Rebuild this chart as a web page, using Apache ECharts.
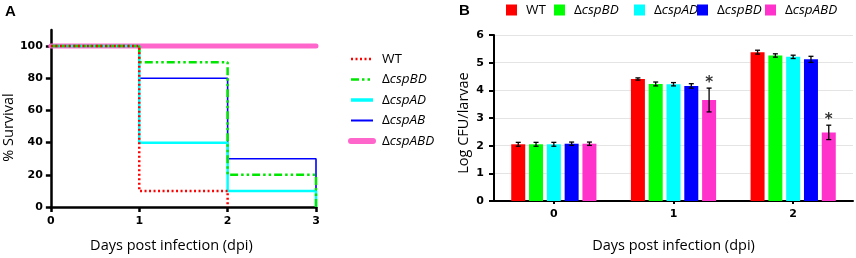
<!DOCTYPE html>
<html><head><meta charset="utf-8">
<script src="https://cdn.jsdelivr.net/npm/echarts@6/dist/echarts.min.js"></script>
<style>html,body{margin:0;padding:0;background:#fff}#c{width:856px;height:258px}</style>
</head><body><div id="c"></div>
<script>
// ---------- Panel A: survival (step curves) ----------
const survivalNames = ['WT', 'ΔcspBD', 'ΔcspAD', 'ΔcspAB', 'ΔcspABD'];
const survivalDays = [0, 1, 2, 3];
const survWT  = [100, 10, 0];
const survBD  = [100, 90, 20, 0];
const survAD  = [100, 40, 10, 0];
const survAB  = [100, 80, 30, 0];
const survABD = [100, 100, 100, 100];
const survivalYTicks = [0, 20, 40, 60, 80, 100];

// ---------- Panel B: Log CFU/larvae ----------
const cfuDays = ['0', '1', '2'];
const cfuLegendLabels = ['WT', 'ΔcspBD', 'ΔcspAD', 'ΔcspBD', 'ΔcspABD'];
const cfuWT  = [2.05, 4.41, 5.38];
const cfuBD  = [2.05, 4.23, 5.26];
const cfuAD  = [2.05, 4.22, 5.21];
const cfuAB  = [2.07, 4.16, 5.12];
const cfuABD = [2.07, 3.65, 2.48];
const errWT  = [0.07, 0.04, 0.07];
const errBD  = [0.07, 0.07, 0.06];
const errAD  = [0.07, 0.06, 0.06];
const errAB  = [0.06, 0.08, 0.11];
const errABD = [0.06, 0.43, 0.26];
const starABD = [0, 1, 1];

// ---------- styling ----------
const survColors = ['#ff0000', '#00e600', '#00ffff', '#0000ff', '#ff66cc'];
const barColors = ['#ff0000', '#00ff00', '#00ffff', '#0000ff', '#ff33cc'];
const BAR_W = 14, BAR_STEP = 17.8;
const tickFont = {fontFamily: 'DejaVu Sans', fontWeight: 'bold', fontSize: 11, color: '#000'};
const titleFont = {fontFamily: 'Open Sans', fontSize: 14.5, color: '#000'};
const richLegend = {
  n: {fontFamily: 'Open Sans', fontSize: 13.5, color: '#000'},
  i: {fontFamily: 'Open Sans', fontSize: 13.5, fontStyle: 'italic', color: '#000'}
};
function fmtLabel(label) {
  if (label.charAt(0) === 'Δ') return '{n|Δ}{i|' + label.slice(1) + '}';
  return '{n|' + label + '}';
}

const survSeriesData = [survWT, survBD, survAD, survAB, survABD];
function toPairs(vals) { return vals.map((v, i) => [survivalDays[i], v]); }

const lineStyles = [
  {type: [2, 2.5], width: 2.5},
  {type: [8, 3, 2.5, 3, 2.5, 3], width: 2.5},
  {type: 'solid', width: 2.5},
  {type: 'solid', width: 1.6},
  {type: 'solid', width: 5, cap: 'round'}
];
const legendLineWidths = [2.5, 2.5, 3.5, 2, 6];

const series = [];
// draw pink first so others sit on top
[4, 3, 2, 1, 0].forEach(k => {
  series.push({
    name: survivalNames[k], type: 'line', step: 'end', xAxisIndex: 0, yAxisIndex: 0,
    data: toPairs(survSeriesData[k]), symbol: 'none', showSymbol: false,
    color: survColors[k],
    lineStyle: Object.assign({color: survColors[k]}, lineStyles[k]),
    emphasis: {disabled: true}, animation: false
  });
});

const cfuSeriesVals = [cfuWT, cfuBD, cfuAD, cfuAB, cfuABD];
const cfuErrVals = [errWT, errBD, errAD, errAB, errABD];
const barSeriesNames = ['B-WT', 'B-cspBD', 'B-cspAD', 'B-cspAB', 'B-cspABD'];
cfuSeriesVals.forEach((vals, k) => {
  series.push({
    name: barSeriesNames[k], type: 'bar', xAxisIndex: 1, yAxisIndex: 1,
    data: vals, barWidth: BAR_W, barGap: ((BAR_STEP - BAR_W) / BAR_W * 100) + '%',
    itemStyle: {color: barColors[k]}, animation: false, emphasis: {disabled: true}
  });
});

const errData = [];
cfuSeriesVals.forEach((vals, k) => {
  vals.forEach((v, c) => {
    errData.push([c, k, v, cfuErrVals[k][c], k === 4 ? starABD[c] : 0]);
  });
});
series.push({
  type: 'custom', xAxisIndex: 1, yAxisIndex: 1, data: errData, z: 5, animation: false,
  renderItem: function (params, api) {
    const cat = api.value(0), k = api.value(1), m = api.value(2), e = api.value(3), st = api.value(4);
    const x = api.coord([cat, m])[0] + (k - 2) * BAR_STEP;
    const yT = api.coord([cat, m + e])[1], yB = api.coord([cat, m - e])[1];
    const st1 = {stroke: '#000', lineWidth: 1.3};
    const ch = [
      {type: 'line', shape: {x1: x, y1: yT, x2: x, y2: yB}, style: st1},
      {type: 'line', shape: {x1: x - 2.5, y1: yT, x2: x + 2.5, y2: yT}, style: st1},
      {type: 'line', shape: {x1: x - 2.5, y1: yB, x2: x + 2.5, y2: yB}, style: st1}
    ];
    if (st) {
      ch.push({type: 'text', x: x, y: yT - 5, style: {text: '*', fontFamily: 'DejaVu Sans', fontWeight: 'bold', fontSize: 15, fill: '#333', align: 'center', verticalAlign: 'middle'}});
    }
    return {type: 'group', children: ch};
  }
});

const legendBLeft = [506, 554, 634, 697, 765];
const legends = [{
  data: survivalNames.map((n, k) => ({name: n, lineStyle: {width: legendLineWidths[k]}})),
  orient: 'vertical', left: 348, top: 52, padding: 0,
  itemWidth: 22, itemHeight: 10, itemGap: 6.5, selectedMode: false,
  itemStyle: {opacity: 0},
  formatter: n => fmtLabel(n),
  textStyle: {rich: {
    n: Object.assign({}, richLegend.n, {padding: [0, 0, 0, 4]}),
    i: richLegend.i}}
}];
barSeriesNames.forEach((nm, k) => {
  legends.push({
    data: [{name: nm, icon: 'rect'}], left: legendBLeft[k], top: 3, padding: 0,
    itemWidth: 11, itemHeight: 11,
    selectedMode: false, formatter: () => fmtLabel(cfuLegendLabels[k]),
    textStyle: {rich: {
      n: Object.assign({}, richLegend.n, {padding: [0, 0, 0, 4]}),
      i: richLegend.i}}
  });
});

const panelTitleFont = {fontFamily: 'Liberation Sans', fontWeight: 'bold', fontSize: 15, color: '#000'};
const option = {
  backgroundColor: '#fff',
  animation: false,
  title: [
    {text: 'A', left: 5, top: 4, padding: 0, textStyle: panelTitleFont},
    {text: 'B', left: 459, top: 3, padding: 0, textStyle: panelTitleFont}
  ],
  legend: legends,
  grid: [
    {left: 50, right: 540, top: 30, bottom: 51},
    {left: 494, right: 3, top: 35, bottom: 57}
  ],
  xAxis: [
    {type: 'value', gridIndex: 0, min: 0, max: 3, interval: 1,
     name: 'Days post infection (dpi)', nameLocation: 'middle', nameGap: 31,
     nameTextStyle: Object.assign({}, titleFont, {padding: [0, 24, 0, 0]}),
     axisLine: {lineStyle: {color: '#000', width: 2.5}},
     axisTick: {show: true, length: 5, lineStyle: {color: '#000', width: 2.5}},
     axisLabel: Object.assign({margin: 9}, tickFont),
     splitLine: {show: false}},
    {type: 'category', gridIndex: 1, data: cfuDays,
     name: 'Days post infection (dpi)', nameLocation: 'middle', nameGap: 37,
     nameTextStyle: titleFont,
     axisLine: {lineStyle: {color: '#000', width: 2}},
     axisTick: {show: true, alignWithLabel: true, length: 3, lineStyle: {color: '#000', width: 2}},
     axisLabel: Object.assign({margin: 8}, tickFont)}
  ],
  yAxis: [
    {type: 'value', gridIndex: 0, min: 0, max: 110,
     name: '% Survival', nameLocation: 'middle', nameGap: 32,
     nameTextStyle: Object.assign({}, titleFont, {padding: [0, 18, 0, 0]}),
     axisLine: {show: true, lineStyle: {color: '#000', width: 2.5}},
     axisTick: {show: true, length: 5, customValues: survivalYTicks, lineStyle: {color: '#000', width: 2.5}},
     axisLabel: Object.assign({margin: 8, customValues: survivalYTicks}, tickFont),
     splitLine: {show: false}},
    {type: 'value', gridIndex: 1, min: 0, max: 6, interval: 1,
     name: 'Log CFU/larvae', nameLocation: 'middle', nameGap: 23,
     nameTextStyle: Object.assign({}, titleFont, {padding: [0, 10, 0, 0]}),
     axisLine: {show: true, lineStyle: {color: '#000', width: 2}},
     axisTick: {show: true, length: 5, lineStyle: {color: '#000', width: 2}},
     axisLabel: Object.assign({margin: 10}, tickFont),
     splitLine: {show: true, lineStyle: {color: '#e4e4e4', width: 1}}}
  ],
  series: series
};
const chart = echarts.init(document.getElementById('c'), null, {renderer: 'canvas'});
chart.setOption(option);
</script></body></html>
